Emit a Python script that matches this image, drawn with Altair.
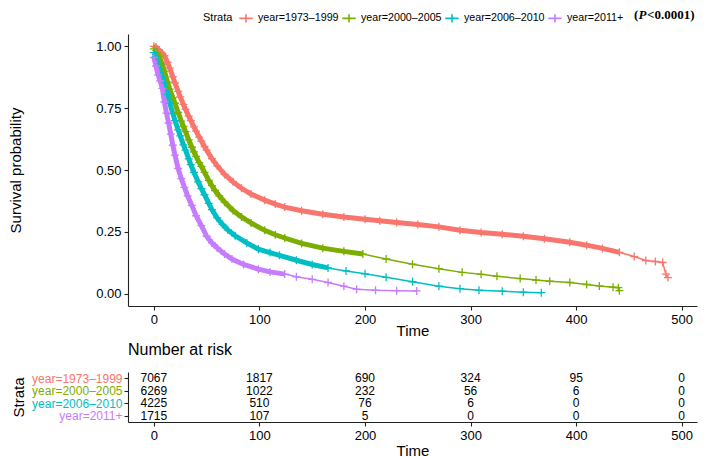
import altair as alt
import pandas as pd

# ---------------- data ----------------
strata = ["year=1973–1999", "year=2000–2005", "year=2006–2010", "year=2011+"]
colors = ["#F8766D", "#7CAE00", "#00BFC4", "#C77CFF"]

t_1973 = [0, 2, 5, 8, 10, 13, 15, 18, 20, 23, 25, 28, 30, 33, 35, 38, 40, 43, 45, 48, 50, 55, 60, 67, 75, 83,
          92, 105, 115, 124, 140, 160, 180, 200, 214, 230, 250, 270, 290, 310, 330, 350, 370, 394, 410, 425,
          441, 455, 466, 475, 482, 485, 487]
s_1973 = [1.000, 0.997, 0.985, 0.972, 0.962, 0.935, 0.912, 0.877, 0.852, 0.818, 0.796, 0.765, 0.745, 0.718,
          0.700, 0.674, 0.657, 0.633, 0.617, 0.595, 0.580, 0.546, 0.517, 0.482, 0.452, 0.426, 0.403, 0.378,
          0.362, 0.350, 0.335, 0.321, 0.310, 0.301, 0.295, 0.288, 0.280, 0.270, 0.256, 0.247, 0.240, 0.232,
          0.222, 0.208, 0.196, 0.183, 0.167, 0.150, 0.134, 0.130, 0.126, 0.079, 0.065]

t_2000 = [0, 3, 5, 8, 10, 13, 15, 18, 20, 23, 26, 28, 30, 33, 36, 38, 40, 43, 45, 48, 52, 55, 58, 62, 67, 75,
          83, 92, 105, 115, 124, 140, 160, 180, 198, 220, 245, 270, 292, 310, 325, 347, 362, 375, 394, 410,
          422, 435, 440, 441]
s_2000 = [0.990, 0.975, 0.960, 0.928, 0.900, 0.855, 0.827, 0.793, 0.770, 0.733, 0.698, 0.676, 0.655, 0.622,
          0.592, 0.573, 0.555, 0.530, 0.515, 0.490, 0.458, 0.437, 0.417, 0.395, 0.370, 0.336, 0.310, 0.286,
          0.256, 0.238, 0.225, 0.203, 0.184, 0.171, 0.160, 0.140, 0.119, 0.101, 0.086, 0.078, 0.070, 0.061,
          0.055, 0.050, 0.045, 0.037, 0.031, 0.026, 0.024, 0.012]

t_2006 = [0, 2, 5, 8, 10, 13, 15, 18, 20, 23, 25, 28, 30, 33, 35, 38, 42, 45, 48, 52, 55, 60, 65, 70, 77, 88,
          99, 110, 119, 135, 150, 165, 182, 200, 220, 245, 270, 290, 308, 330, 350, 367]
s_2006 = [0.975, 0.960, 0.930, 0.882, 0.852, 0.805, 0.772, 0.728, 0.700, 0.662, 0.638, 0.602, 0.580, 0.545,
          0.522, 0.490, 0.452, 0.425, 0.400, 0.365, 0.340, 0.306, 0.280, 0.258, 0.234, 0.205, 0.180, 0.166,
          0.155, 0.135, 0.118, 0.104, 0.092, 0.080, 0.066, 0.048, 0.030, 0.020, 0.014, 0.010, 0.006, 0.004]

t_2011 = [0, 2, 4, 6, 8, 10, 12, 14, 16, 18, 20, 23, 26, 29, 32, 36, 40, 45, 50, 55, 60, 67, 74, 85, 99, 110,
          124, 135, 150, 165, 180, 192, 210, 230, 249]
s_2011 = [0.955, 0.920, 0.885, 0.860, 0.830, 0.775, 0.730, 0.690, 0.645, 0.600, 0.560, 0.506, 0.465, 0.430,
          0.395, 0.357, 0.315, 0.275, 0.232, 0.205, 0.185, 0.160, 0.140, 0.118, 0.099, 0.088, 0.079, 0.068,
          0.058, 0.045, 0.030, 0.018, 0.014, 0.012, 0.011]

# time up to which censoring marks are so dense that they merge into a band
band_end = [445, 210, 165, 125]

risk_times = [0, 100, 200, 300, 400, 500]
risk_1973 = [7067, 1817, 690, 324, 95, 0]
risk_2000 = [6269, 1022, 232, 56, 6, 0]
risk_2006 = [4225, 510, 76, 6, 0, 0]
risk_2011 = [1715, 107, 5, 0, 0, 0]

x_ticks = [0, 100, 200, 300, 400, 500]
y_ticks = [0.0, 0.25, 0.5, 0.75, 1.0]
p_open, p_letter, p_rest = "(", "P", "<0.0001)"

# ---------------- tables ----------------
curves = [(t_1973, s_1973), (t_2000, s_2000), (t_2006, s_2006), (t_2011, s_2011)]
km_rows = []
for name, (ts, ss), be in zip(strata, curves, band_end):
    for t, s in zip(ts, ss):
        km_rows.append({"strata": name, "time": t, "surv": s, "dense": t <= be})
km_df = pd.DataFrame(km_rows)

risk_rows = []
for name, counts in zip(strata, [risk_1973, risk_2000, risk_2006, risk_2011]):
    for t, n in zip(risk_times, counts):
        risk_rows.append({"strata": name, "time": t, "n": n})
risk_df = pd.DataFrame(risk_rows)

# ---------------- chart ----------------
W = 569
CROSS = "M-1,0H1M0,-1V1"
KEY = "M-1,0H1M0,-0.6V0.6"

x_scale = alt.Scale(domain=[-24.5, 514.5], nice=False, zero=False)
y_scale = alt.Scale(domain=[-0.05, 1.05], nice=False, zero=False)
color_scale = alt.Scale(domain=strata, range=colors)

x_enc = alt.X("time:Q", scale=x_scale,
              axis=alt.Axis(values=x_ticks, format="d", title="Time", titlePadding=-3))
y_enc = alt.Y("surv:Q", scale=y_scale,
              axis=alt.Axis(values=y_ticks, format=".2f", title="Survival probability",
                            titlePadding=72))
legend = alt.Legend(orient="none", legendX=75, legendY=-24, direction="horizontal",
                    title="Strata", titleOrient="left", titleFontSize=11, titleFontWeight="normal",
                    labelFontSize=10.7, symbolType=KEY, symbolSize=180, symbolStrokeWidth=1.6,
                    columnPadding=0, labelOffset=4, labelLimit=0, titlePadding=5)
c_enc = alt.Color("strata:N", scale=color_scale, legend=legend, sort=strata)

base = alt.Chart(km_df)
band = base.transform_filter("datum.dense").mark_line(strokeWidth=5, strokeCap="butt").encode(
    x=x_enc, y=y_enc, color=c_enc)
lines = base.mark_line(strokeWidth=1.5).encode(x=x_enc, y=y_enc, color=c_enc)
points = base.mark_point(shape=CROSS, filled=False, size=64, strokeWidth=1.3, opacity=1).encode(
    x=x_enc, y=y_enc, color=c_enc)

ptxt = alt.Chart(pd.DataFrame({"a": [p_open], "b": [p_letter], "c": [p_rest]}))
PY = -19
PX = 506
p1 = ptxt.mark_text(align="left", baseline="middle", font="Liberation Serif", fontWeight="bold",
                    fontSize=13, color="black").encode(text="a:N", x=alt.value(PX), y=alt.value(PY))
p2 = ptxt.mark_text(align="left", baseline="middle", font="Liberation Serif", fontWeight="bold",
                    fontStyle="italic", fontSize=13, color="black").encode(
    text="b:N", x=alt.value(PX + 4.5), y=alt.value(PY))
p3 = ptxt.mark_text(align="left", baseline="middle", font="Liberation Serif", fontWeight="bold",
                    fontSize=13, color="black").encode(text="c:N", x=alt.value(PX + 13), y=alt.value(PY))

main = alt.layer(band, lines, points, p1, p2, p3).properties(width=W, height=272)

label_color = {"condition": [{"test": f"datum.value === '{s}'", "value": c}
                             for s, c in zip(strata, colors)], "value": "black"}

risk = alt.Chart(risk_df).mark_text(fontSize=12, color="black").encode(
    x=alt.X("time:Q", scale=x_scale,
            axis=alt.Axis(values=x_ticks, format="d", title="Time", titlePadding=1)),
    y=alt.Y("strata:N", sort=strata, scale=alt.Scale(domain=strata),
            axis=alt.Axis(title="Strata", labelColor=label_color, labelFontSize=12,
                          titlePadding=5, labelPadding=2)),
    text=alt.Text("n:Q"),
).properties(width=W, height=50,
             title=alt.TitleParams("Number at risk", anchor="start", frame="group", fontSize=16,
                                   fontWeight="normal", offset=14, color="black"))

chart = alt.vconcat(main, risk, spacing=66, bounds="flush").resolve_scale(
    color="independent").properties(padding={"left": 0, "top": 1, "right": 3, "bottom": 0}).configure(
    font="Liberation Sans").configure_view(stroke=None).configure_axis(
    grid=False, domainColor="#222222", tickColor="#222222", labelColor="black", titleColor="black",
    labelFontSize=13, titleFontSize=15, titleFontWeight="normal", tickSize=4, labelPadding=3,
    domainWidth=1.1, tickWidth=1.1)

chart.save("out.html", embed_options={"renderer": "svg", "actions": False})
